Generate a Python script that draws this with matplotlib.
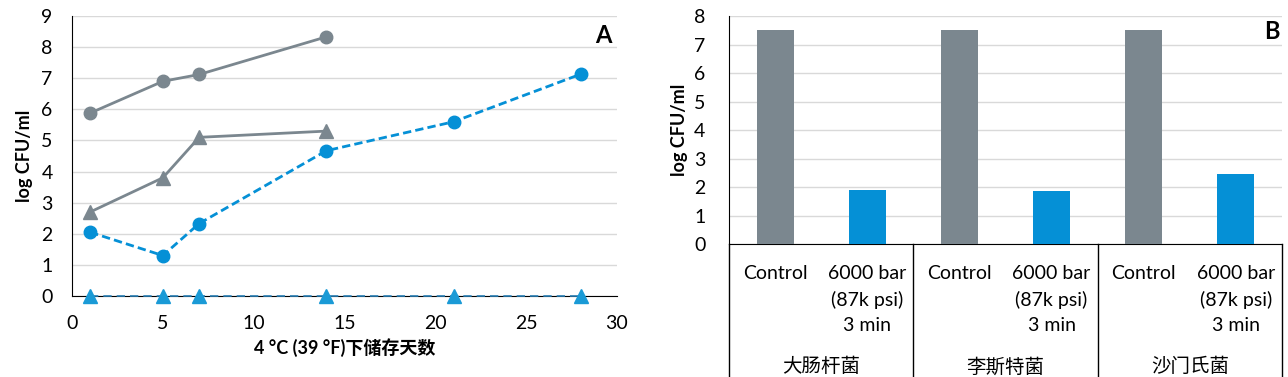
import matplotlib
matplotlib.use('Agg')
import matplotlib.pyplot as plt
from matplotlib.lines import Line2D

plt.rcParams['font.family'] = ['Lato', 'Noto Sans CJK SC', 'DejaVu Sans']

# panel A data
days_short = [1, 5, 7, 14]
days_long = [1, 5, 7, 14, 21, 28]
grey_circles = [5.88, 6.9, 7.12, 8.33]
grey_triangles = [2.7, 3.8, 5.1, 5.3]
blue_circles = [2.05, 1.3, 2.33, 4.67, 5.6, 7.13]
blue_triangles = [0, 0, 0, 0, 0, 0]

# panel B data
bacteria = ['大肠杆菌', '李斯特菌', '沙门氏菌']
treatments = ['Control', '6000 bar\n(87k psi)\n3 min']
bar_values = [7.5, 1.88, 7.5, 1.85, 7.5, 2.45]

grey = '#7b878f'
blue = '#0590d6'
blue_tri = '#1a9ad6'

fig = plt.figure(figsize=(12.88, 3.77), dpi=100)

# ---- panel A ----
ax1 = fig.add_axes([72/1288, 1-296/377, (617-72)/1288, (296-16)/377])
ax1.plot(days_short, grey_circles, color=grey, lw=2, marker='o', ms=9, zorder=3)
ax1.plot(days_short, grey_triangles, color=grey, lw=2, marker='^', ms=10, zorder=3)
ax1.plot(days_long, blue_circles, color=blue, lw=2, ls=(0, (3, 1.5)), marker='o', ms=9, zorder=3)
ax1.plot(days_long, blue_triangles, color='#2a7fb5', lw=1.2, ls=(0, (5, 3)), marker='^', ms=10,
         mfc=blue_tri, mec=blue_tri, zorder=3, clip_on=False)
ax1.set_xlim(0, 30)
ax1.set_ylim(0, 9)
ax1.set_xticks(range(0, 31, 5))
ax1.set_yticks(range(0, 10))
ax1.grid(axis='y', color='#d9d9d9', lw=1)
ax1.set_axisbelow(True)
for s in ['top', 'right']:
    ax1.spines[s].set_visible(False)
ax1.spines['left'].set_color('black')
ax1.spines['bottom'].set_color('black')
ax1.tick_params(length=0, labelsize=14)
ax1.tick_params(axis='x', pad=14)
ax1.tick_params(axis='y', pad=14)
ax1.set_xlabel('4 °C (39 °F)下储存天数', fontsize=13, fontweight='bold', labelpad=4)
ax1.set_ylabel('log CFU/ml', fontsize=13, fontweight='bold', labelpad=6)
ax1.text(0.99, 0.93, 'A', transform=ax1.transAxes, ha='right', va='center',
         fontsize=17, fontweight='bold')

# ---- panel B ----
ax2 = fig.add_axes([729/1288, 1-244/377, (1282-729)/1288, (244-16)/377])
pos = list(range(len(bar_values)))
colors = [grey, blue] * len(bacteria)
ax2.bar(pos, bar_values, width=0.4, color=colors, zorder=3)
ax2.set_xlim(-0.5, len(bar_values) - 0.5)
ax2.set_ylim(0, 8)
ax2.set_yticks(range(0, 9))
ax2.set_xticks([])
ax2.grid(axis='y', color='#d9d9d9', lw=1)
ax2.set_axisbelow(True)
for s in ['top', 'right']:
    ax2.spines[s].set_visible(False)
ax2.tick_params(length=0, labelsize=14, pad=17)
ax2.set_ylabel('log CFU/ml', fontsize=13, fontweight='bold', labelpad=4)
ax2.text(0.995, 0.93, 'B', transform=ax2.transAxes, ha='right', va='center',
         fontsize=17, fontweight='bold')

# category table below panel B
trans = ax2.get_xaxis_transform()
for i, p in enumerate(pos):
    ax2.text(p, -0.09, treatments[i % 2], transform=trans, ha='center', va='top',
             fontsize=14, linespacing=1.6)
for g, name in enumerate(bacteria):
    ax2.text(2*g + 0.5, -0.535, name, transform=trans, ha='center', va='center', fontsize=14)
for g in range(len(bacteria) + 1):
    ax2.add_line(Line2D([2*g - 0.5, 2*g - 0.5], [0, -0.6], transform=trans,
                        color='black', lw=1, clip_on=False))

fig.savefig('out.png', dpi=100)
